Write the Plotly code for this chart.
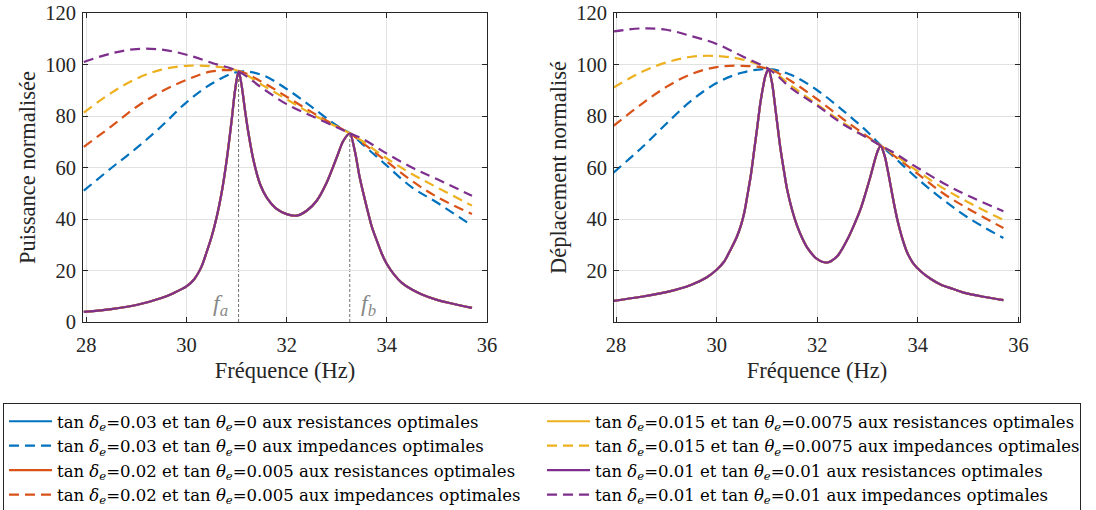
import plotly.graph_objects as go

# ---------------- data ----------------
freq_dash = [27.95, 28.5, 29.0, 29.5, 30.0, 30.5, 31.05, 31.5, 32.0, 32.5, 33.0, 33.27, 33.5, 34.0, 34.5, 35.0, 35.7]

# Left panel: Puissance normalisee, impedances optimales (dashed)
P_imp_blue = [51, 59.8, 67.5, 76, 85.3, 92.5, 97.2, 96, 90.5, 83.5, 76.3, 73.2, 69.3, 60.7, 52.3, 46.4, 37.4]
P_imp_orange = [68, 76, 83.5, 89.5, 94, 97.3, 97.4, 93.3, 87.5, 81.5, 76, 73.2, 69.8, 62.3, 54.8, 48.6, 41.9]
P_imp_yellow = [81.3, 89, 94.5, 98, 99.5, 99.3, 97.4, 92.2, 86.5, 80.8, 75.8, 73.2, 70.4, 63.5, 57.5, 52.3, 45.2]
P_imp_purple = [101, 104.3, 106, 105.8, 103.8, 100.7, 97.2, 91, 84.6, 80, 75.6, 73.2, 71.3, 65.4, 60, 55.5, 49]

# Right panel: Deplacement normalise, impedances optimales (dashed)
D_imp_blue = [58, 67.5, 77, 86, 92.8, 96.8, 98.2, 95.8, 90, 82.3, 73.8, 68.4, 64.5, 55.5, 47.5, 40.5, 32.6]
D_imp_orange = [76.2, 84.5, 91.3, 96.3, 99, 99.5, 98.2, 93.3, 86.5, 79, 72, 68.4, 65, 57.5, 50, 44, 36.5]
D_imp_yellow = [91, 97, 100.8, 103, 103.3, 102, 98.2, 91.5, 84.5, 77.5, 71.5, 68.4, 65.5, 58.5, 52, 46.5, 39.6]
D_imp_purple = [112.8, 114, 113.5, 111, 108, 103.3, 98, 90.5, 84, 77, 71.5, 68.4, 66, 59.8, 54, 49, 43]

# Resistances optimales (solid) - the four cases overlap
freq_res_P = [27.95, 28.5, 29.0, 29.5, 29.75, 30.0, 30.15, 30.3, 30.4, 30.5, 30.6, 30.7, 30.8, 30.9,
              30.97, 31.04, 31.1, 31.17, 31.24, 31.34, 31.47, 31.6, 31.8, 32.0, 32.2, 32.4, 32.6,
              32.8, 33.0, 33.13, 33.26, 33.36, 33.46, 33.6, 33.7, 33.8, 33.9, 34.0, 34.15, 34.3,
              34.5, 34.7, 35.0, 35.3, 35.7]
P_res = [3.9, 5.0, 6.6, 9.3, 11.3, 13.8, 16.5, 21.5, 27, 33, 40.5, 50, 62.5, 78,
         90, 97.4, 92, 82, 73, 62.6, 53.5, 48.4, 43.9, 41.9, 41.3, 43.2, 47.1,
         54.2, 63.9, 70.3, 73.2, 66.5, 56, 44.5, 37, 31.6, 26.5, 22.5, 18.3, 15.2,
         12.6, 10.7, 8.6, 7.2, 5.5]

freq_res_D = [27.95, 28.5, 29.0, 29.5, 29.8, 30.0, 30.15, 30.28, 30.4, 30.48, 30.55, 30.61, 30.68,
              30.74, 30.81, 30.87, 30.93, 30.97, 31.03, 31.1, 31.17, 31.27, 31.34, 31.4, 31.5,
              31.6, 31.7, 31.8, 32.0, 32.2, 32.4, 32.6, 32.75, 32.86, 32.96, 33.06, 33.19,
              33.26, 33.34, 33.4, 33.46, 33.52, 33.59, 33.69, 33.79, 33.9, 34.05, 34.25, 34.45,
              34.7, 34.91, 35.3, 35.7]
D_res = [8.2, 9.8, 11.6, 14.5, 17.3, 20.3, 23.5, 28.2, 33, 37.3, 42.5, 49, 57,
         65.8, 76, 85.2, 92, 95.6, 98.2, 93, 82.6, 67.1, 58.5, 51.6, 43.5,
         37.3, 32.6, 28.9, 24.4, 23.1, 25.6, 32.1, 38.5, 43.8, 50, 56.7, 65.8,
         68.4, 64.5, 59, 52.8, 46.5, 39.9, 32.5, 26.9, 23, 19.8, 16.8, 14.6,
         12.8, 11.4, 9.8, 8.5]

fa, fa_peak = 31.04, 97.4
fb, fb_peak = 33.26, 73.2

cases = ["0.03", "0.02", "0.015", "0.01"]
thetas = ["0", "0.005", "0.0075", "0.01"]
colors = ["#0072BD", "#D95319", "#EDB120", "#7E2F8E"]

x_ticks = [28, 30, 32, 34, 36]
yL_ticks = [0, 20, 40, 60, 80, 100, 120]
yR_ticks = [20, 40, 60, 80, 100, 120]

P_imp = [P_imp_blue, P_imp_orange, P_imp_yellow, P_imp_purple]
D_imp = [D_imp_blue, D_imp_orange, D_imp_yellow, D_imp_purple]

# ---------------- figure ----------------
FONT = "Liberation Serif, Times New Roman, Times, serif"
LFONT = "DejaVu Serif, Liberation Serif, serif"
TXT = "#262626"
fig = go.Figure()

# legend ranks (row-major filling of a 2-column legend)
rank_solid = [1, 5, 2, 6]
rank_dash = [3, 7, 4, 8]

def label(i, kind):
    return ("tan <i>δ</i><sub><i>e</i></sub>=" + cases[i] + " et tan <i>θ</i><sub><i>e</i></sub>="
            + thetas[i] + " aux " + kind + " optimales")

for i in range(4):
    fig.add_trace(go.Scatter(x=freq_res_P, y=P_res, mode="lines",
                             line=dict(color=colors[i], width=2.2, shape="spline", smoothing=0.8),
                             name=label(i, "resistances"), legendrank=rank_solid[i],
                             xaxis="x", yaxis="y"))
    fig.add_trace(go.Scatter(x=freq_dash, y=P_imp[i], mode="lines",
                             line=dict(color=colors[i], width=2.2, dash="10px,6px", shape="spline"),
                             name=label(i, "impedances"), legendrank=rank_dash[i],
                             xaxis="x", yaxis="y"))
for i in range(4):
    fig.add_trace(go.Scatter(x=freq_res_D, y=D_res, mode="lines",
                             line=dict(color=colors[i], width=2.2, shape="spline", smoothing=0.8),
                             showlegend=False, xaxis="x2", yaxis="y2"))
    fig.add_trace(go.Scatter(x=freq_dash, y=D_imp[i], mode="lines",
                             line=dict(color=colors[i], width=2.2, dash="10px,6px", shape="spline"),
                             showlegend=False, xaxis="x2", yaxis="y2"))

for f, pk in [(fa, fa_peak), (fb, fb_peak)]:
    fig.add_shape(type="line", xref="x", yref="y", x0=f, x1=f, y0=0, y1=pk,
                  line=dict(color="#707070", width=1, dash="3px,2px"), layer="below")

fig.add_annotation(x=fa - 0.37, y=6.5, xref="x", yref="y", showarrow=False,
                   text="<i>f</i><sub><i>a</i></sub>", font=dict(family=FONT, size=24, color="#8a8a8a"))
fig.add_annotation(x=fb + 0.37, y=6.5, xref="x", yref="y", showarrow=False,
                   text="<i>f</i><sub><i>b</i></sub>", font=dict(family=FONT, size=24, color="#8a8a8a"))

axis_common = dict(showline=True, linecolor=TXT, linewidth=1, mirror="ticks",
                   ticks="inside", ticklen=5, tickcolor=TXT, showgrid=True,
                   gridcolor="#e2e2e2", gridwidth=1, zeroline=False, automargin=False,
                   ticklabeloverflow="allow",
                   tickfont=dict(family=FONT, size=20.5, color=TXT))

# page body margin is reset to 0 (post_script below), so figure = window
W, H = 1096, 510
def px_x(x):
    return x / W
def px_y(y):
    return (H - y) / H

ydom = [px_y(322), px_y(13)]
title_font = dict(family=FONT, size=22.5, color=TXT)
fig.update_layout(
    width=W, height=H, margin=dict(l=0, r=0, t=0, b=0, autoexpand=False),
    font=dict(family=FONT, color=TXT),
    plot_bgcolor="white", paper_bgcolor="white",
    xaxis=dict(domain=[px_x(83), px_x(487)], range=[27.934, 36.0], tickvals=x_ticks,
               ticklabelstandoff=4,
               title=dict(text="Fréquence (Hz)", font=title_font, standoff=7),
               anchor="y", **axis_common),
    yaxis=dict(domain=ydom, range=[0, 120], tickvals=yL_ticks, ticklabelstandoff=2,
               title=dict(text="Puissance normalisée", font=title_font, standoff=3),
               anchor="x", **axis_common),
    xaxis2=dict(domain=[px_x(614), px_x(1020)], range=[27.96, 36.03], tickvals=x_ticks,
                ticklabelstandoff=4,
                title=dict(text="Fréquence (Hz)", font=title_font, standoff=7),
                anchor="y2", **axis_common),
    yaxis2=dict(domain=ydom, range=[0, 120], tickvals=yR_ticks, ticklabelstandoff=2,
                title=dict(text="Déplacement normalisé", font=title_font, standoff=3),
                anchor="x2", **axis_common),
    legend=dict(orientation="h", x=px_x(3), xanchor="left", y=px_y(403), yanchor="top",
                entrywidth=480, entrywidthmode="pixels", traceorder="normal",
                bordercolor=TXT, borderwidth=1, bgcolor="white",
                font=dict(family=LFONT, size=16.5, color="#000000"),
                itemwidth=43, tracegroupgap=0),
    showlegend=True,
)

fig.write_html("out.html", config={"displayModeBar": False},
               post_script="document.body.style.margin='0px';document.body.style.overflow='hidden';")
